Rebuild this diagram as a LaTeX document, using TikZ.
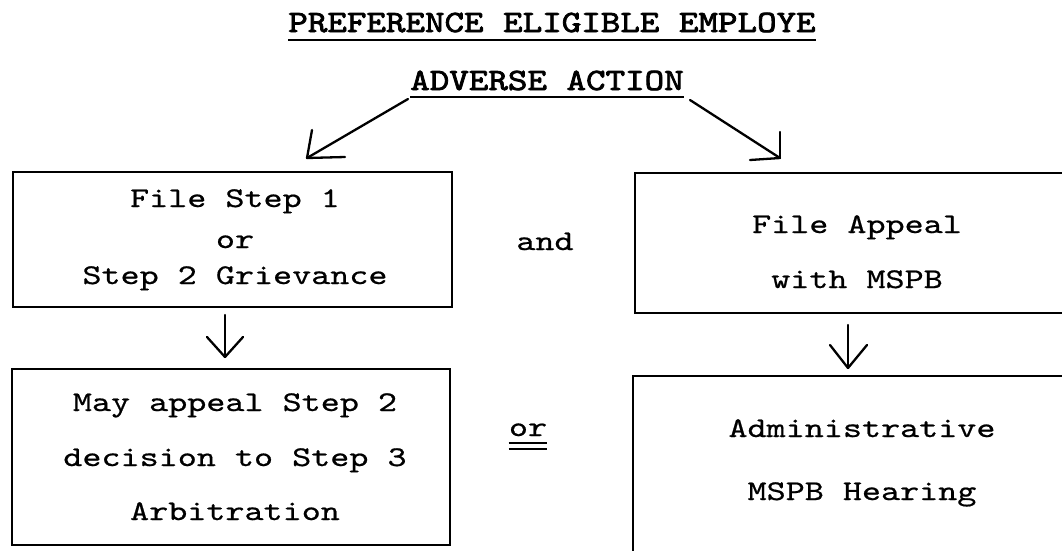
\documentclass[tikz,border=0pt]{standalone}
\usepackage{fontspec}
\newfontfamily\twfont{lmmono10-regular.otf}[FakeStretch=1.27,FakeBold=0.6]
\newfontfamily\twtitlefont{lmmono10-regular.otf}[FakeStretch=1.2,FakeBold=2.5]
\begin{document}
\begin{tikzpicture}[x=1pt,y=-1pt,
  box/.style={draw, line width=2.4pt, inner sep=0pt},
  txt/.style={font=\twfont\fontsize{28.6}{30}\selectfont, anchor=base, inner sep=0pt},
  ttl/.style={font=\twtitlefont\fontsize{31}{32}\selectfont, anchor=base, inner sep=0pt},
  conn/.style={line width=2.3pt, line cap=round, line join=round},
  uline/.style={line width=2.6pt}]
\useasboundingbox (0,0) rectangle (1062,550);
\clip (0,0) rectangle (1062,550);

% headings
\node[ttl] (title) at (552,32) {PREFERENCE ELIGIBLE EMPLOYE};
\draw[uline] ([yshift=-8pt]title.base west) -- ([yshift=-8pt]title.base east);
\node[ttl] (adv) at (547,90) {ADVERSE ACTION};
\draw[uline] ([yshift=-7pt]adv.base west) -- ([yshift=-7pt]adv.base east);

% boxes
\node[box, minimum width=439, minimum height=135] (b1) at (232.5,239.5) {};
\node[box, minimum width=445, minimum height=140] (b2) at (857.5,243) {};
\node[box, minimum width=438, minimum height=176] (b3) at (231,457) {};
\node[box, minimum width=447, minimum height=194] (b4) at (856.5,473) {};

% box texts
\node[txt] (b1a) at (235,207) {File Step 1};
\node[txt] (b1b) at (235,248) {or};
\node[txt] (b1c) at (235,284) {Step 2 Grievance};
\node[txt] (b2a) at (857,233) {File Appeal};
\node[txt] (b2b) at (857,288) {with MSPB};
\node[txt] (b3a) at (235,411) {May appeal Step 2};
\node[txt] (b3b) at (235,466) {decision to Step 3};
\node[txt] (b3c) at (235,520) {Arbitration};
\node[txt] (b4a) at (862,437) {Administrative};
\node[txt] (b4b) at (862,500) {MSPB Hearing};

% between-box words
\node[txt] (and) at (545,250) {and};
\node[txt] (or) at (528,436) {or};
\draw[line width=1.8pt] ([yshift=-7pt]or.base west) -- ([yshift=-7pt]or.base east);
\draw[line width=1.8pt] ([yshift=-13pt]or.base west) -- ([yshift=-13pt]or.base east);

% arrow end points
\coordinate (aL) at (408,99);
\coordinate (tL) at (307,158);
\coordinate (aR) at (690,100);
\coordinate (tR) at (780,158);
\coordinate (dL1) at (225,315);
\coordinate (dL2) at (225,357);
\coordinate (dR1) at (848,325);
\coordinate (dR2) at (848,368);

% hand-drawn arrows
\draw[conn] (aL) -- (tL);
\draw[conn] (tL) -- ++(5,-28);
\draw[conn] (tL) -- ++(38,-1);
\draw[conn] (aR) -- (tR);
\draw[conn] (tR) -- ++(0,-26);
\draw[conn] (tR) -- ++(-30,2);
\draw[conn] (dL1) -- (dL2);
\draw[conn] (dL2) -- ++(-18,-20);
\draw[conn] (dL2) -- ++(18,-20);
\draw[conn] (dR1) -- (dR2);
\draw[conn] (dR2) -- ++(-18,-23);
\draw[conn] (dR2) -- ++(19,-23);
\end{tikzpicture}
\end{document}
